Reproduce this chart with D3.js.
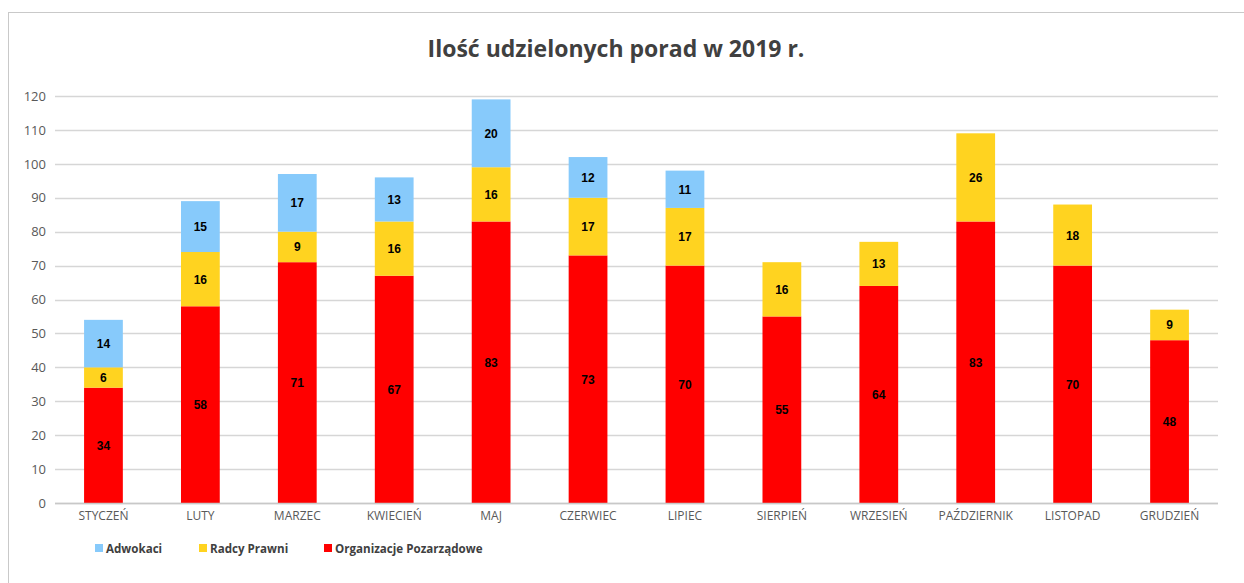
<!DOCTYPE html>
<html>
<head>
<meta charset="utf-8">
<script src="https://cdn.jsdelivr.net/npm/d3@7"></script>
<style>
  body { margin: 0; background: #fff; }
  text { font-family: "Open Sans", "Noto Sans", sans-serif; }
</style>
</head>
<body>
<div id="chart"></div>
<script>
// data
var months = ["STYCZEŃ", "LUTY", "MARZEC", "KWIECIEŃ", "MAJ", "CZERWIEC", "LIPIEC",
              "SIERPIEŃ", "WRZESIEŃ", "PAŹDZIERNIK", "LISTOPAD", "GRUDZIEŃ"];
var organizacje = [34, 58, 71, 67, 83, 73, 70, 55, 64, 83, 70, 48];
var radcy = [6, 16, 9, 16, 16, 17, 17, 16, 13, 26, 18, 9];
var adwokaci = [14, 15, 17, 13, 20, 12, 11, 0, 0, 0, 0, 0];
var yTicks = [0, 10, 20, 30, 40, 50, 60, 70, 80, 90, 100, 110, 120];

var seriesKeys = ["organizacje", "radcy", "adwokaci"];
var seriesColors = { organizacje: "#FF0000", radcy: "#FFD320", adwokaci: "#87CAFB" };
var legendItems = [
    { key: "adwokaci", label: "Adwokaci" },
    { key: "radcy", label: "Radcy Prawni" },
    { key: "organizacje", label: "Organizacje Pozarządowe" }
];

var W = 1244, H = 583;
var margin = { top: 96, right: 26, bottom: 80, left: 55 };
var width = W - margin.left - margin.right,
    height = 503 - margin.top;

var svg = d3.select("#chart")
    .append("svg")
    .attr("width", W)
    .attr("height", H);

// chart frame
svg.append("rect")
    .attr("x", 8.5).attr("y", 12.5)
    .attr("width", 1250).attr("height", 600)
    .attr("fill", "none")
    .attr("stroke", "#c9c9c9");

// title
svg.append("text")
    .attr("x", 616)
    .attr("y", 57)
    .attr("text-anchor", "middle")
    .style("font-size", "23px")
    .style("font-weight", "bold")
    .style("fill", "#404040")
    .text("Ilość udzielonych porad w 2019 r.");

var g = svg.append("g")
    .attr("transform", "translate(" + margin.left + "," + margin.top + ")");

var table = months.map(function (m, i) {
    return { month: m, organizacje: organizacje[i], radcy: radcy[i], adwokaci: adwokaci[i] };
});

var x = d3.scaleBand()
    .domain(months)
    .range([0, width])
    .paddingInner(0.6)
    .paddingOuter(0.3);

var y = d3.scaleLinear()
    .domain([0, 120])
    .range([height, 0]);

// gridlines
g.append("g")
    .selectAll("line")
    .data(yTicks)
    .enter()
    .append("line")
    .attr("x1", 0)
    .attr("x2", width)
    .attr("y1", function (d) { return Math.round(y(d)) + 0.5; })
    .attr("y2", function (d) { return Math.round(y(d)) + 0.5; })
    .attr("stroke", "#d6d6d6")
    .attr("stroke-width", 1.3);

// y axis labels
var yAxis = g.append("g")
    .call(d3.axisLeft(y).tickValues(yTicks).tickSize(0).tickPadding(9));
yAxis.select(".domain").remove();
yAxis.selectAll("text")
    .style("font-size", "13px")
    .style("fill", "#595959")
    .style("font-family", "'Open Sans', sans-serif");

var stack = d3.stack().keys(seriesKeys);
var layers = stack(table);

var layer = g.selectAll(".layer")
    .data(layers)
    .enter()
    .append("g")
    .attr("fill", function (d) { return seriesColors[d.key]; });

layer.selectAll("rect")
    .data(function (d) { return d.filter(function (p) { return p[1] - p[0] > 0; }); })
    .enter()
    .append("rect")
    .attr("x", function (d) { return x(d.data.month); })
    .attr("y", function (d) { return y(d[1]); })
    .attr("width", x.bandwidth())
    .attr("height", function (d) { return y(d[0]) - y(d[1]); });

// value labels
layers.forEach(function (l) {
    g.append("g")
        .selectAll("text")
        .data(l.filter(function (p) { return p[1] - p[0] > 0; }))
        .enter()
        .append("text")
        .attr("x", function (d) { return x(d.data.month) + x.bandwidth() / 2; })
        .attr("y", function (d) { return (y(d[0]) + y(d[1])) / 2 + 4.5; })
        .attr("text-anchor", "middle")
        .style("font-family", "'Liberation Sans', Arial, sans-serif")
        .style("font-size", "12px")
        .style("font-weight", "bold")
        .style("fill", "#000")
        .text(function (d) { return d[1] - d[0]; });
});

// x axis baseline and labels
g.append("line")
    .attr("x1", 0).attr("x2", width)
    .attr("y1", height + 0.5).attr("y2", height + 0.5)
    .attr("stroke", "#c8c8c8")
    .attr("stroke-width", 1.3);

var xAxis = g.append("g")
    .attr("transform", "translate(0," + height + ")")
    .call(d3.axisBottom(x).tickSize(0).tickPadding(8));
xAxis.select(".domain").remove();
xAxis.selectAll("text")
    .style("font-size", "12px")
    .style("fill", "#595959")
    .style("font-family", "'Open Sans', sans-serif");

// legend
var legendX = [95, 199, 324];
var legend = svg.append("g");
legendItems.forEach(function (item, i) {
    legend.append("rect")
        .attr("x", legendX[i])
        .attr("y", 544)
        .attr("width", 8)
        .attr("height", 8)
        .attr("fill", seriesColors[item.key]);
    legend.append("text")
        .attr("x", legendX[i] + 11)
        .attr("y", 552.5)
        .style("font-size", "11.6px")
        .style("font-weight", "bold")
        .style("fill", "#404040")
        .text(item.label);
});
</script>
</body>
</html>
